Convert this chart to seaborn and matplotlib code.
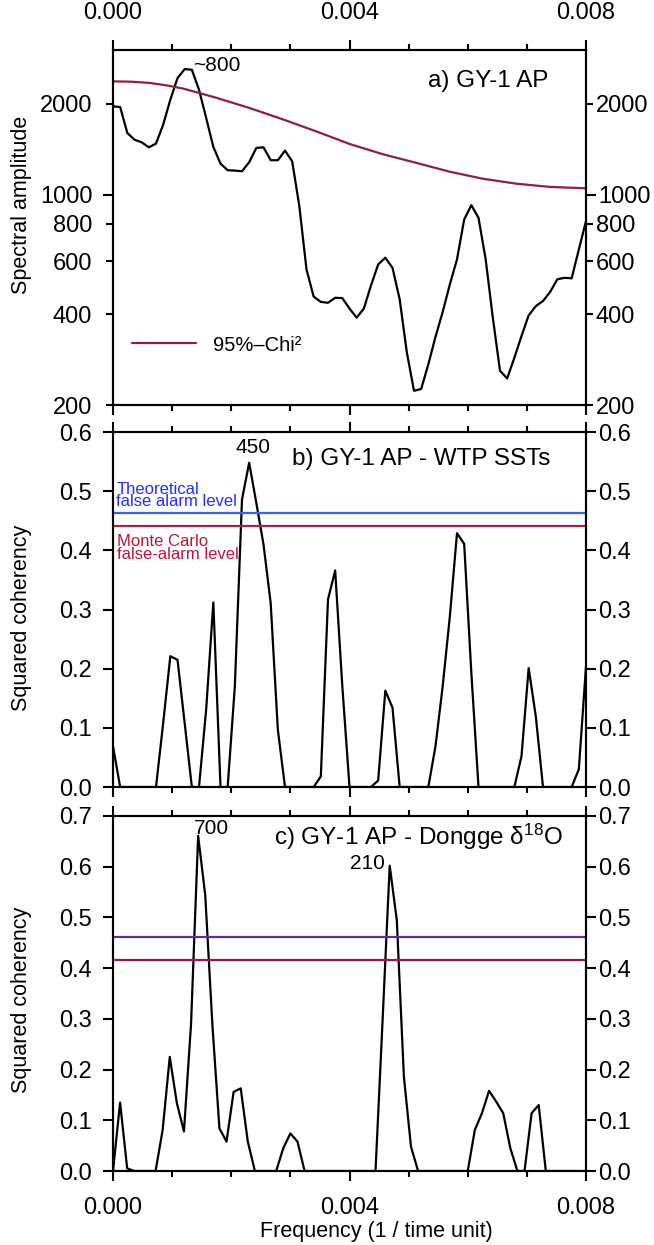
import numpy as np
import matplotlib
matplotlib.use('Agg')
import matplotlib.pyplot as plt
import seaborn as sns
from matplotlib.ticker import FixedLocator, FixedFormatter, MultipleLocator, NullLocator

sns.set_style('ticks')
plt.rcParams['font.family'] = ['Liberation Sans', 'DejaVu Sans']
plt.rcParams['mathtext.default'] = 'regular'
plt.rcParams['xtick.labelsize'] = 17
plt.rcParams['ytick.labelsize'] = 17
plt.rcParams['axes.linewidth'] = 1.5
for k in ['text.color', 'axes.labelcolor', 'xtick.color', 'ytick.color', 'axes.edgecolor']:
    plt.rcParams[k] = 'black'

# --- data ---
freq_step_ab = 0.008 / 66
freq_step_c = 0.00012

# a) spectral amplitude GY-1 AP
amp = [1963, 1953, 1601, 1521, 1491, 1435, 1476, 1706, 2065, 2436,
       2610, 2597, 2229, 1796, 1439, 1267, 1204, 1201, 1195, 1280,
       1428, 1435, 1300, 1300, 1399, 1290, 915, 564, 458, 440,
       437, 454, 453, 418, 390, 418, 499, 586, 617, 571,
       449, 299, 223, 226, 273, 337, 407, 503, 609, 826,
       922, 837, 609, 390, 260, 245, 287, 339, 397, 426,
       443, 475, 523, 529, 527, 657, 816]
chi_freq = [0, 0.00031, 0.00062, 0.0009, 0.00119, 0.00175, 0.00231, 0.00288, 0.00344,
            0.00401, 0.00457, 0.00513, 0.0057, 0.00626, 0.00683, 0.00739, 0.008]
chi_amp = [2376, 2370, 2348, 2305, 2248, 2095, 1938, 1775, 1620,
           1470, 1360, 1274, 1190, 1128, 1086, 1060, 1049]

# b) squared coherency GY-1 AP - WTP SSTs
coh_wtp = [0.069, 0, 0, 0, 0, 0, 0, 0.108, 0.221, 0.215,
           0.108, 0, 0, 0.131, 0.312, 0, 0, 0.170, 0.486, 0.548,
           0.48, 0.41, 0.311, 0.097, 0, 0, 0, 0, 0, 0.018,
           0.317, 0.366, 0.170, 0, 0, 0, 0, 0.011, 0.163, 0.134,
           0, 0, 0, 0, 0, 0.069, 0.170, 0.288, 0.429, 0.411,
           0.193, 0, 0, 0, 0, 0, 0, 0.052, 0.201, 0.119,
           0, 0, 0, 0, 0, 0.030, 0.204]
theo_wtp = 0.463
mc_wtp = 0.441

# c) squared coherency GY-1 AP - Dongge d18O
coh_dongge = [0, 0.135, 0.005, 0, 0, 0, 0, 0.081, 0.225, 0.134,
              0.078, 0.29, 0.661, 0.544, 0.29, 0.084, 0.058, 0.156, 0.163, 0.058,
              0, 0, 0, 0, 0.045, 0.074, 0.058, 0, 0, 0,
              0, 0, 0, 0, 0, 0, 0, 0, 0.298, 0.602,
              0.495, 0.186, 0.048, 0, 0, 0, 0, 0, 0, 0,
              0, 0.081, 0.114, 0.158, 0.137, 0.114, 0.045, 0, 0, 0.114,
              0.130, 0, 0, 0, 0, 0, 0]
theo_dongge = 0.462
mc_dongge = 0.416

freq_ab = np.arange(len(amp)) * freq_step_ab
freq_c = np.arange(len(coh_dongge)) * freq_step_c

chi_color = '#901c4e'
blue_b, red_b = '#3a5ef0', '#a8204f'
blue_c, red_c = '#5c2e9e', '#9b1452'


def style_x(ax, top_labels=False, bottom_labels=False):
    ax.set_xlim(0, 0.008)
    ax.xaxis.set_major_locator(FixedLocator([0, 0.004, 0.008]))
    ax.xaxis.set_major_formatter(FixedFormatter(['0.000', '0.004', '0.008']))
    ax.xaxis.set_minor_locator(MultipleLocator(0.001))
    ax.tick_params(axis='x', which='both', direction='out', top=True, bottom=True,
                   labeltop=top_labels, labelbottom=bottom_labels, width=1.5, pad=11)
    ax.tick_params(axis='x', which='major', length=7.5)
    ax.tick_params(axis='x', which='minor', length=4.5)


def style_y(ax, scale, lim, major, major_lab, minor=None, minor_lab=None):
    twin = ax.twinx()
    for a in (ax, twin):
        a.set_yscale(scale)
        a.set_ylim(lim)
        a.yaxis.set_major_locator(FixedLocator(major))
        a.yaxis.set_major_formatter(FixedFormatter(major_lab))
        if minor:
            a.yaxis.set_minor_locator(FixedLocator(minor))
            a.yaxis.set_minor_formatter(FixedFormatter(minor_lab))
        else:
            a.yaxis.set_minor_locator(NullLocator())
        for sp in a.spines.values():
            sp.set_linewidth(1.5)
    ax.tick_params(axis='y', which='both', left=True, right=False, direction='out', width=1.5)
    twin.tick_params(axis='y', which='both', left=False, right=True, direction='out', width=1.5)
    ax.tick_params(axis='y', which='major', length=7.5, pad=7.4)
    twin.tick_params(axis='y', which='major', length=7.5, pad=1)
    ax.tick_params(axis='y', which='minor', length=5, pad=9.9)
    twin.tick_params(axis='y', which='minor', length=5, pad=2)
    return twin


fig = plt.figure(figsize=(6.54, 12.45), dpi=100)
L, W, H = 113 / 654, 473 / 654, 355 / 1245
ax_a = fig.add_axes([L, 1 - 405 / 1245, W, H])
ax_b = fig.add_axes([L, 1 - 787 / 1245, W, H])
ax_c = fig.add_axes([L, 1 - 1171 / 1245, W, H])

# ---- panel a ----
sns.lineplot(x=freq_ab, y=amp, ax=ax_a, color='black', linewidth=1.6)
sns.lineplot(x=chi_freq, y=chi_amp, ax=ax_a, color=chi_color, linewidth=1.6,
             label='95%–Chi²')
style_y(ax_a, 'log', (200, 3020), [1000], ['1000'],
        [200, 400, 600, 800, 2000], ['200', '400', '600', '800', '2000'])
style_x(ax_a, top_labels=True)
ax_a.legend(loc='center left', bbox_to_anchor=(0.0395, 0.169), frameon=False,
            fontsize=14.5, handlelength=3.2, handletextpad=0.83,
            borderpad=0, borderaxespad=0)
ax_a.text(0.92, 0.913, 'a) GY-1 AP', transform=ax_a.transAxes,
          ha='right', va='center', fontsize=17.5)
ax_a.text(0.00135, 2677, '~800', ha='left', va='center', fontsize=15)
ax_a.set_ylabel('Spectral amplitude', fontsize=15.5)
ax_a.yaxis.set_label_coords(-0.171, 0.563)

# ---- panel b ----
sns.lineplot(x=freq_ab, y=coh_wtp, ax=ax_b, color='black', linewidth=1.6)
ax_b.axhline(theo_wtp, color=blue_b, linewidth=1.6)
ax_b.axhline(mc_wtp, color=red_b, linewidth=1.6)
style_y(ax_b, 'linear', (0, 0.6), [0, 0.1, 0.2, 0.3, 0.4, 0.5, 0.6],
        ['0.0', '0.1', '0.2', '0.3', '0.4', '0.5', '0.6'])
style_x(ax_b)
tb = ax_b.get_yaxis_transform()
ax_b.text(0.007, 0.4957, 'Theoretical', transform=tb, color='#2030ff',
          fontsize=12, ha='left', va='baseline')
ax_b.text(0.007, 0.4742, 'false alarm level', transform=tb, color='#2030ff',
          fontsize=12, ha='left', va='baseline')
ax_b.text(0.009, 0.4078, 'Monte Carlo', transform=tb, color='#c0143c',
          fontsize=12, ha='left', va='baseline')
ax_b.text(0.009, 0.3858, 'false-alarm level', transform=tb, color='#c0143c',
          fontsize=12, ha='left', va='baseline')
ax_b.text(0.924, 0.924, 'b) GY-1 AP - WTP SSTs', transform=ax_b.transAxes,
          ha='right', va='center', fontsize=17.5)
ax_b.text(0.00237, 0.574, '450', ha='center', va='center', fontsize=15)
ax_b.set_ylabel('Squared coherency', fontsize=15.5)
ax_b.yaxis.set_label_coords(-0.171, 0.476)

# ---- panel c ----
sns.lineplot(x=freq_c, y=coh_dongge, ax=ax_c, color='black', linewidth=1.6)
ax_c.axhline(theo_dongge, color=blue_c, linewidth=1.6)
ax_c.axhline(mc_dongge, color=red_c, linewidth=1.6)
style_y(ax_c, 'linear', (0, 0.7), [0, 0.1, 0.2, 0.3, 0.4, 0.5, 0.6, 0.7],
        ['0.0', '0.1', '0.2', '0.3', '0.4', '0.5', '0.6', '0.7'])
style_x(ax_c, bottom_labels=True)
ax_c.text(0.951, 0.942, 'c) GY-1 AP - Dongge δ$^{18}$O', transform=ax_c.transAxes,
          ha='right', va='center', fontsize=17.5)
ax_c.text(0.00167, 0.676, '700', ha='center', va='center', fontsize=15)
ax_c.text(0.00431, 0.6055, '210', ha='center', va='center', fontsize=15)
ax_c.set_ylabel('Squared coherency', fontsize=15.5)
ax_c.yaxis.set_label_coords(-0.171, 0.482)

fig.text(376 / 654, 1 - 1231 / 1245, 'Frequency (1 / time unit)',
         ha='center', va='center', fontsize=15.5)

fig.savefig('out.png', dpi=100)
